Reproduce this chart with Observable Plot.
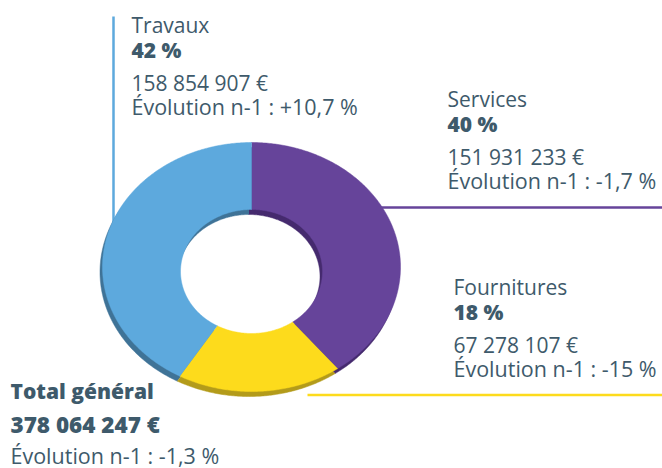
<!DOCTYPE html>
<html>
<head>
<meta charset="utf-8">
<script src="https://cdn.jsdelivr.net/npm/d3@7"></script>
<script src="https://cdn.jsdelivr.net/npm/@observablehq/plot@0.6"></script>
<style>
  html, body { margin: 0; padding: 0; background: #fff; }
  #chart svg { display: block; }
</style>
</head>
<body>
<div id="chart"></div>
<script>
// ---- data ----
const categories = ["Travaux", "Services", "Fournitures"];
const amounts = [158854907, 151931233, 67278107];
const shareLabels = ["42 %", "40 %", "18 %"];
const amountLabels = ["158 854 907 €", "151 931 233 €", "67 278 107 €"];
const evolutionLabels = ["Évolution n-1 : +10,7 %", "Évolution n-1 : -1,7 %", "Évolution n-1 : -15 %"];
const totalTitle = "Total général";
const totalAmount = "378 064 247 €";
const totalEvolution = "Évolution n-1 : -1,3 %";

// ---- style / layout ----
const faceColors = ["#5DA9DD", "#66449A", "#FDDB1C"];
const shadeColors = ["#3F7397", "#452A6E", "#B39B1A"];
const textColor = "#3E5A6B";
const W = 662, H = 468;
const cx = 251, cy = 266.5, rx = 149, ry = 124.5;     // outer ellipse
const icy = 271, irx = 71, iry = 62;                  // hole ellipse
const shadeDx = -2.5, shadeDy = 5;                    // extrusion offset
const font = "'Open Sans', Lato, sans-serif";

// pie order: Services first from 12 o'clock, clockwise, then Fournitures, then Travaux
const order = [1, 2, 0];
const pie = d3.pie().sort(null).value(i => amounts[i]).startAngle(0).endAngle(2 * Math.PI);
const arcs = pie(order);

function ring(ox, oy) {
  const out = [];
  for (const a of arcs) {
    const i = a.data, cat = categories[i];
    const n = Math.max(8, Math.ceil((a.endAngle - a.startAngle) / 0.01));
    for (let k = 0; k <= n; k++) {
      const t = a.startAngle + (a.endAngle - a.startAngle) * k / n;
      out.push({cat, idx: i, x: ox + cx + rx * Math.sin(t), y: oy + cy - ry * Math.cos(t)});
    }
    for (let k = n; k >= 0; k--) {
      const t = a.startAngle + (a.endAngle - a.startAngle) * k / n;
      out.push({cat, idx: i, x: ox + cx + irx * Math.sin(t), y: oy + icy - iry * Math.cos(t)});
    }
  }
  return out;
}
const facePts = ring(0, 0);
const shadePts = ring(shadeDx, shadeDy);

// leader lines (layout)
const leaders = [
  {cat: "Travaux", pts: [[113, 16], [113, 250]]},
  {cat: "Services", pts: [[340, 207], [662, 207]]},
  {cat: "Fournitures", pts: [[307, 394.5], [662, 394.5]]}
].flatMap(l => l.pts.map(([x, y]) => ({cat: l.cat, x, y})));

// annotation text lines
const blockX = [131, 447, 453];
const blockY = [32, 106, 294];
const lineOff = [0, 25, 58, 82];
const texts = [];
categories.forEach((c, i) => {
  texts.push({x: blockX[i], y: blockY[i] + lineOff[0], text: c, bold: false, size: 21});
  texts.push({x: blockX[i], y: blockY[i] + lineOff[1], text: shareLabels[i], bold: true, size: 21});
  texts.push({x: blockX[i], y: blockY[i] + lineOff[2], text: amountLabels[i], bold: false, size: 21});
  texts.push({x: blockX[i], y: blockY[i] + lineOff[3], text: evolutionLabels[i], bold: false, size: 21.5});
});
texts.push({x: 10, y: 398, text: totalTitle, bold: true, size: 21});
texts.push({x: 10, y: 432, text: totalAmount, bold: true, size: 22.5});
texts.push({x: 10, y: 463, text: totalEvolution, bold: false, size: 21.5});

const shadeMarks = categories.map((c, i) =>
  Plot.line(shadePts, {filter: d => d.idx === i, x: "x", y: "y", fill: shadeColors[i], stroke: shadeColors[i], strokeWidth: 0.5})
);

const chart = Plot.plot({
  width: W, height: H,
  margin: 0,
  x: {domain: [0, W], range: [0, W], axis: null},
  y: {domain: [0, H], range: [0, H], axis: null},
  color: {domain: categories, range: faceColors},
  style: {fontFamily: font, background: "#fff"},
  marks: [
    Plot.line(leaders, {x: "x", y: "y", z: "cat", stroke: "cat", strokeWidth: 2.5, strokeLinecap: "butt"}),
    ...shadeMarks,
    Plot.line(facePts, {x: "x", y: "y", z: "cat", fill: "cat", stroke: "cat", strokeWidth: 0.5}),
    Plot.text(texts.filter(d => !d.bold), {x: "x", y: "y", text: "text", fontSize: "size", textAnchor: "start", lineAnchor: "bottom", fill: textColor, fontFamily: font}),
    Plot.text(texts.filter(d => d.bold), {x: "x", y: "y", text: "text", fontSize: "size", textAnchor: "start", lineAnchor: "bottom", fill: textColor, fontWeight: 800, fontFamily: font})
  ]
});
document.getElementById("chart").append(chart);
</script>
</body>
</html>
